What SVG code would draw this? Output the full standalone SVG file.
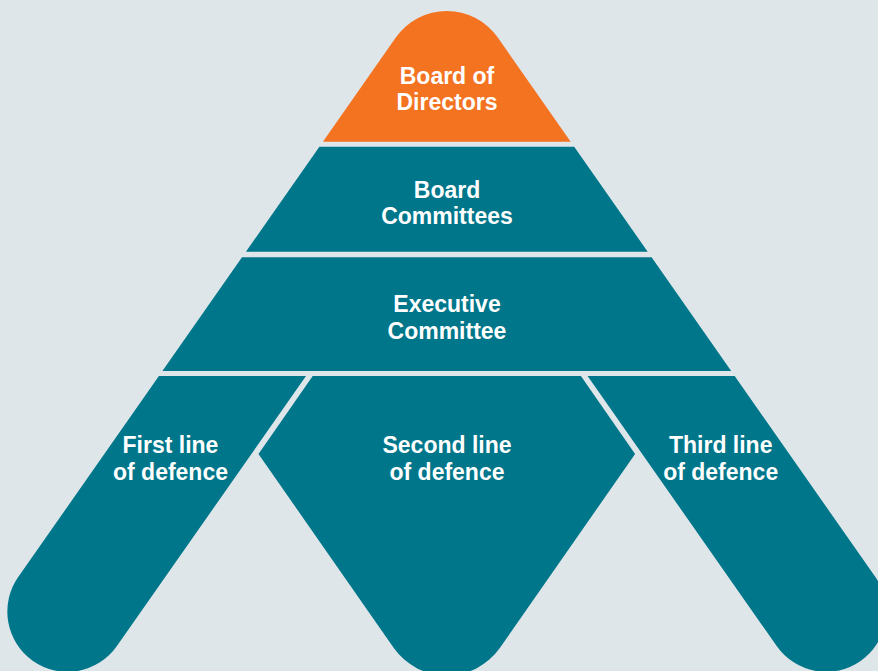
<svg xmlns="http://www.w3.org/2000/svg" width="878" height="671" viewBox="0 0 878 671">
  <style>
    .teal { fill: #00768b; }
    .orange { fill: #f37321; }
    .lbl { font-family: "Liberation Sans", Arial, sans-serif; font-weight: bold; font-size: 23px; fill: #ffffff; text-anchor: middle; }
  </style>
  <rect x="0" y="0" width="878" height="671" fill="#dfe6e9"/>
  <g id="board-of-directors">
    <path class="orange" d="M322.9,141.7 L395.8,37.6 A62.3,62.3 0 0 1 497.8,37.6 L570.7,141.7 Z"/>
    <text class="lbl" x="447" y="83.5">Board of</text>
    <text class="lbl" x="447" y="110">Directors</text>
  </g>
  <g id="board-committees">
    <path class="teal" d="M319.4,146.7 L574.2,146.7 L647.7,251.7 L245.9,251.7 Z"/>
    <text class="lbl" x="447" y="198">Board</text>
    <text class="lbl" x="447" y="224">Committees</text>
  </g>
  <g id="executive-committee">
    <path class="teal" d="M242,257.3 L651.6,257.3 L731.2,371 L162.4,371 Z"/>
    <text class="lbl" x="447" y="312">Executive</text>
    <text class="lbl" x="447" y="338.5">Committee</text>
  </g>
  <g id="first-line">
    <path class="teal" d="M158.9,376 L306,376 L116.9,646.1 A60.2,60.2 0 0 1 33,660.9 A60.2,60.2 0 0 1 18.2,577.1 Z"/>
    <text class="lbl" x="170.5" y="453.3">First line</text>
    <text class="lbl" x="170.5" y="480">of defence</text>
  </g>
  <g id="second-line">
    <path class="teal" d="M312.7,376 L580.9,376 L635.1,454 L500,647.8 A65,65 0 0 1 393.6,647.8 L258.5,454 Z"/>
    <text class="lbl" x="447" y="453.3">Second line</text>
    <text class="lbl" x="447" y="480">of defence</text>
  </g>
  <g id="third-line">
    <path class="teal" d="M587.6,376 L734.7,376 L875.4,577.1 A60.2,60.2 0 0 1 860.6,660.9 A60.2,60.2 0 0 1 776.7,646.1 Z"/>
    <text class="lbl" x="720.7" y="453">Third line</text>
    <text class="lbl" x="720.7" y="479.5">of defence</text>
  </g>
  <g id="connectors"/>
</svg>
